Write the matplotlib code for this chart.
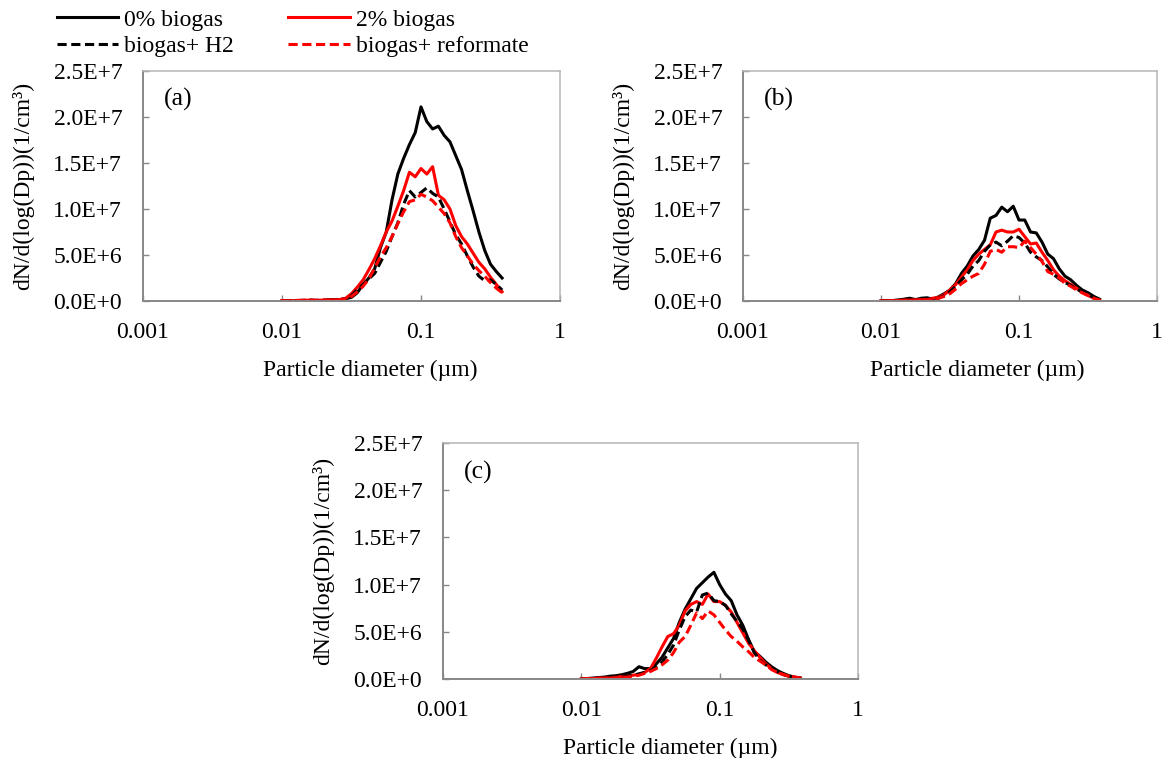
import matplotlib
matplotlib.use("Agg")
import matplotlib.pyplot as plt
from matplotlib.ticker import FixedLocator, FuncFormatter, NullLocator

plt.rcParams['font.family'] = ['Liberation Serif', 'DejaVu Serif']

# particle diameter (um), SMPS bins
diam = [0.0100, 0.01101, 0.01212, 0.01334, 0.01468, 0.01616, 0.01778, 0.01957,
        0.02154, 0.02371, 0.02610, 0.02873, 0.03162, 0.03481, 0.03831, 0.04217,
        0.04642, 0.05109, 0.05623, 0.06190, 0.06813, 0.07499, 0.08254, 0.09085,
        0.1000, 0.1101, 0.1212, 0.1334, 0.1468, 0.1616, 0.1778, 0.1957,
        0.2154, 0.2371, 0.2610, 0.2873, 0.3162, 0.3481, 0.3831]

# dN/dlogDp in units of 1E6 1/cm3
a_0 = [0.05, 0.02, 0.0, 0.05, 0.02, 0.05, 0.08, 0.05, 0.1,
       0.15, 0.15, 0.25, 0.4, 0.9, 1.8, 2.5, 3.5, 5.8, 7.5,
       11.0, 13.8, 15.5, 17.0, 18.3, 21.1, 19.5, 18.7, 19.0, 18.0,
       17.3, 15.8, 14.3, 12.0, 9.8, 7.5, 5.5, 4.0, 3.2, 2.5]
a_2 = [0.05, 0.05, 0.02, 0.05, 0.1, 0.08, 0.05, 0.1, 0.1,
       0.12, 0.15, 0.3, 0.8, 1.5, 2.3, 3.4, 4.6, 6.0, 7.5,
       8.7, 10.3, 12.0, 14.0, 13.5, 14.4, 13.8, 14.6, 11.5, 11.0,
       10.0, 8.2, 7.0, 6.2, 5.2, 4.2, 3.5, 2.6, 1.8, 1.0]
a_h2 = [0.03, 0.05, 0.03, 0.05, 0.08, 0.1, 0.05, 0.08, 0.1,
        0.1, 0.15, 0.25, 0.6, 1.2, 1.8, 2.4, 3.0, 4.2, 5.4,
        7.0, 8.5, 10.5, 12.0, 11.3, 11.8, 12.3, 11.7, 11.3, 10.0,
        8.6, 7.2, 6.2, 4.9, 3.7, 2.7, 2.2, 2.3, 1.8, 1.2]
a_ref = [0.05, 0.03, 0.05, 0.08, 0.05, 0.1, 0.08, 0.12, 0.1,
         0.15, 0.15, 0.25, 0.5, 1.0, 1.6, 2.4, 3.6, 4.8, 5.8,
         7.0, 8.4, 9.7, 10.8, 11.0, 11.6, 11.3, 10.9, 10.2, 9.5,
         8.5, 7.0, 5.8, 4.9, 4.0, 3.3, 2.7, 2.0, 1.4, 0.9]

b_0 = [0.02, 0.05, 0.05, 0.1, 0.2, 0.3, 0.15, 0.3, 0.35,
       0.2, 0.45, 0.8, 1.2, 1.9, 3.0, 3.8, 4.9, 5.6, 6.6,
       9.0, 9.3, 10.2, 9.7, 10.3, 8.8, 8.8, 7.5, 7.4, 6.4,
       5.1, 4.6, 3.5, 2.7, 2.3, 1.7, 1.2, 0.9, 0.5, 0.2]
b_2 = [0.02, 0.03, 0.05, 0.05, 0.1, 0.1, 0.15, 0.15, 0.2,
       0.3, 0.4, 0.7, 1.2, 1.8, 2.6, 3.4, 4.4, 5.1, 5.6,
       6.1, 7.5, 7.7, 7.5, 7.5, 7.8, 7.0, 6.2, 6.3, 5.3,
       4.4, 3.4, 2.7, 2.2, 1.8, 1.4, 0.9, 0.6, 0.3, 0.1]
b_h2 = [0.02, 0.03, 0.05, 0.08, 0.1, 0.15, 0.1, 0.2, 0.25,
        0.2, 0.3, 0.6, 1.0, 1.6, 2.3, 2.9, 3.8, 4.4, 5.4,
        6.1, 6.4, 6.0, 6.5, 7.1, 6.9, 6.3, 5.3, 4.8, 4.4,
        3.7, 2.9, 2.4, 2.0, 1.7, 1.3, 1.0, 0.7, 0.4, 0.2]
b_ref = [0.02, 0.02, 0.05, 0.05, 0.08, 0.1, 0.1, 0.15, 0.15,
         0.2, 0.3, 0.5, 0.8, 1.3, 1.9, 2.3, 2.7, 3.0, 4.0,
         5.4, 5.6, 5.3, 5.9, 5.9, 5.8, 6.5, 5.8, 5.1, 4.3,
         3.2, 2.9, 2.5, 1.9, 1.6, 1.2, 0.9, 0.6, 0.3, 0.1]

c_0 = [0.02, 0.05, 0.1, 0.15, 0.2, 0.3, 0.35, 0.45, 0.6,
       0.8, 1.3, 1.1, 1.1, 1.6, 2.3, 3.3, 4.3, 6.0, 7.4,
       8.5, 9.6, 10.2, 10.8, 11.3, 10.0, 9.0, 8.3, 6.8, 5.7,
       4.2, 2.9, 2.4, 1.8, 1.3, 0.9, 0.6, 0.35, 0.2, 0.1]
c_2 = [0.02, 0.05, 0.05, 0.1, 0.1, 0.15, 0.2, 0.25, 0.3,
       0.4, 0.5, 0.7, 1.1, 2.2, 3.4, 4.5, 4.8, 5.7, 7.2,
       7.9, 8.2, 7.9, 9.0, 8.2, 8.2, 7.8, 7.1, 6.0, 4.9,
       3.8, 3.0, 2.3, 1.6, 1.1, 0.7, 0.45, 0.3, 0.2, 0.1]
c_h2 = [0.02, 0.03, 0.05, 0.1, 0.1, 0.15, 0.2, 0.3, 0.3,
        0.4, 0.55, 0.7, 0.9, 1.3, 1.8, 2.6, 3.6, 5.2, 6.6,
        7.3, 7.1, 8.9, 9.1, 8.3, 8.2, 7.8, 6.9, 6.1, 5.3,
        4.1, 2.8, 2.0, 1.5, 1.1, 0.8, 0.5, 0.3, 0.2, 0.1]
c_ref = [0.02, 0.05, 0.05, 0.08, 0.1, 0.1, 0.15, 0.2, 0.2,
         0.3, 0.4, 0.6, 0.8, 1.1, 1.5, 2.0, 2.8, 3.9, 4.5,
         5.7, 7.0, 6.4, 7.2, 6.8, 6.0, 5.2, 4.5, 4.0, 3.4,
         2.9, 2.3, 1.9, 1.5, 1.0, 0.7, 0.5, 0.3, 0.2, 0.1]

labels = ["0% biogas", "2% biogas", "biogas+ H2", "biogas+ reformate"]
x_ticks = [0.001, 0.01, 0.1, 1]
x_ticklabels = ["0.001", "0.01", "0.1", "1"]
y_ticks = [0, 5e6, 1e7, 1.5e7, 2e7, 2.5e7]

FS = 17
LW = 2.2
dash = (0, (3, 1.5))

fig = plt.figure(figsize=(11.63, 7.58), dpi=100)

# tag, axes rect, x position of the x label, data
panels = [
    ("(a)", [143 / 1163, 1 - 301 / 758, 417 / 1163, 230 / 758], 0.544, (a_0, a_2, a_h2, a_ref)),
    ("(b)", [743 / 1163, 1 - 301 / 758, 414 / 1163, 230 / 758], 0.566, (b_0, b_2, b_h2, b_ref)),
    ("(c)", [443 / 1163, 1 - 679 / 758, 415 / 1163, 236 / 758], 0.547, (c_0, c_2, c_h2, c_ref)),
]


def sci(v, pos):
    s = f"{v:.1E}"
    return s.replace("E+0", "E+").replace("E-0", "E-")


handles = None
for tag, rect, xlab_x, series in panels:
    ax = fig.add_axes(rect)
    s0, s2, sh2, sref = [[v * 1e6 for v in s] for s in series]
    l0, = ax.plot(diam, s0, color="black", lw=LW, label=labels[0])
    l2, = ax.plot(diam, s2, color="red", lw=LW, label=labels[1])
    l3, = ax.plot(diam, sh2, color="black", lw=LW, ls=dash, label=labels[2])
    l4, = ax.plot(diam, sref, color="red", lw=LW, ls=dash, label=labels[3])
    if handles is None:
        handles = [l0, l2, l3, l4]
    ax.set_xscale("log")
    ax.set_xlim(0.001, 1)
    ax.set_ylim(0, 2.5e7)
    ax.xaxis.set_major_locator(FixedLocator(x_ticks))
    ax.xaxis.set_minor_locator(NullLocator())
    ax.set_xticklabels(x_ticklabels)
    ax.set_yticks(y_ticks)
    ax.yaxis.set_major_formatter(FuncFormatter(sci))
    ax.tick_params(direction="in", length=4, width=1, color="#888888",
                   labelsize=FS)
    ax.tick_params(axis="y", pad=15)
    ax.tick_params(axis="x", pad=15)
    for side in ("left", "bottom"):
        ax.spines[side].set_color("#888888")
        ax.spines[side].set_linewidth(1.4)
    for side in ("top", "right"):
        ax.spines[side].set_color("#b5b5b5")
        ax.spines[side].set_linewidth(1.1)
    ax.set_xlabel("Particle diameter (µm)", fontsize=FS, labelpad=12, x=xlab_x)
    ax.set_ylabel("dN/d(log(Dp))(1/cm³)", fontsize=FS, labelpad=14)
    ax.text(0.05, 0.875, tag, transform=ax.transAxes, fontsize=18.5,
            va="center", ha="left")

# shared legend at the top left (column-wise fill)
order = [handles[0], handles[2], handles[1], handles[3]]
fig.legend(order, [h.get_label() for h in order], loc="upper left",
           bbox_to_anchor=(57 / 1163, 1 - 9 / 758), ncol=2, frameon=False,
           fontsize=FS, handlelength=2.6, handletextpad=0.25,
           columnspacing=2.3, labelspacing=0.22, borderaxespad=0,
           borderpad=0)

fig.savefig("out.png", dpi=100)
